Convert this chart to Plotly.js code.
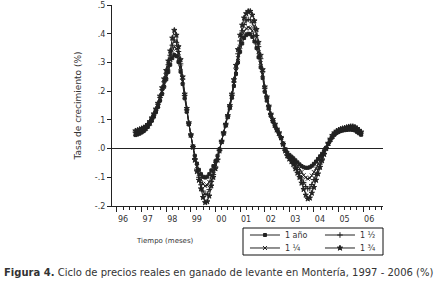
<!DOCTYPE html>
<html>
<head>
<meta charset="utf-8">
<script src="https://cdn.plot.ly/plotly-3.0.1.min.js"></script>
<style>html,body{margin:0;padding:0;background:#fff}#chart{width:443px;height:283px}</style>
</head>
<body>
<div id="chart"></div>
<script>
// Monthly observations starting October 1996
const startMonth = "1996-10";
const seriesNames = ["1 año", "1 ½", "1 ¼", "1 ¾"];

const serie1Anio = [0.047,0.049,0.052,0.056,0.061,0.067,0.075,0.085,0.097,0.111,0.127,0.145,0.167,0.190,0.215,0.241,0.267,0.292,0.315,0.326,0.322,0.302,0.268,0.225,0.175,0.128,0.084,0.045,0.008,-0.025,-0.052,-0.074,-0.089,-0.098,-0.101,-0.098,-0.089,-0.076,-0.061,-0.044,-0.025,-0.002,0.024,0.052,0.080,0.109,0.141,0.177,0.218,0.260,0.300,0.337,0.366,0.385,0.395,0.400,0.398,0.389,0.373,0.350,0.318,0.283,0.246,0.198,0.167,0.139,0.114,0.094,0.078,0.063,0.050,0.036,0.018,-0.002,-0.014,-0.022,-0.028,-0.034,-0.041,-0.048,-0.055,-0.061,-0.065,-0.067,-0.067,-0.065,-0.060,-0.053,-0.045,-0.036,-0.027,-0.018,-0.008,0.003,0.016,0.028,0.039,0.048,0.054,0.058,0.061,0.063,0.064,0.065,0.066,0.066,0.065,0.063,0.058,0.053,0.048];

const serie1Cuarto = [0.052,0.054,0.057,0.060,0.065,0.070,0.078,0.088,0.100,0.114,0.131,0.150,0.173,0.198,0.224,0.252,0.280,0.310,0.340,0.354,0.348,0.322,0.282,0.234,0.180,0.131,0.086,0.046,0.007,-0.030,-0.062,-0.088,-0.108,-0.123,-0.130,-0.128,-0.116,-0.097,-0.077,-0.055,-0.032,-0.005,0.024,0.053,0.081,0.111,0.144,0.181,0.225,0.270,0.315,0.355,0.388,0.408,0.418,0.422,0.420,0.410,0.394,0.370,0.336,0.298,0.258,0.205,0.172,0.143,0.117,0.096,0.080,0.064,0.052,0.037,0.017,-0.004,-0.018,-0.027,-0.034,-0.041,-0.050,-0.060,-0.070,-0.082,-0.093,-0.101,-0.105,-0.103,-0.094,-0.082,-0.069,-0.055,-0.042,-0.028,-0.013,0.002,0.017,0.030,0.042,0.051,0.057,0.061,0.064,0.066,0.067,0.068,0.069,0.070,0.069,0.067,0.062,0.057,0.051];

const serie1Medio = [0.057,0.059,0.062,0.065,0.069,0.074,0.081,0.091,0.103,0.117,0.134,0.154,0.178,0.205,0.233,0.262,0.292,0.325,0.360,0.378,0.370,0.338,0.295,0.242,0.185,0.135,0.088,0.047,0.006,-0.035,-0.072,-0.100,-0.126,-0.148,-0.160,-0.158,-0.143,-0.115,-0.090,-0.064,-0.037,-0.007,0.024,0.054,0.083,0.113,0.147,0.185,0.232,0.280,0.330,0.375,0.410,0.432,0.445,0.450,0.448,0.438,0.420,0.394,0.355,0.313,0.268,0.210,0.176,0.146,0.119,0.098,0.082,0.066,0.054,0.038,0.016,-0.006,-0.022,-0.032,-0.040,-0.048,-0.060,-0.073,-0.086,-0.102,-0.118,-0.132,-0.140,-0.138,-0.125,-0.108,-0.090,-0.072,-0.054,-0.036,-0.017,0.001,0.018,0.032,0.044,0.053,0.059,0.063,0.066,0.068,0.070,0.071,0.073,0.073,0.073,0.071,0.066,0.060,0.054];

const serie1TresCuartos = [0.062,0.064,0.067,0.070,0.073,0.077,0.084,0.094,0.107,0.121,0.138,0.158,0.183,0.212,0.243,0.272,0.305,0.340,0.385,0.412,0.395,0.355,0.310,0.250,0.190,0.140,0.090,0.048,0.005,-0.040,-0.080,-0.110,-0.140,-0.170,-0.188,-0.185,-0.165,-0.130,-0.100,-0.070,-0.040,-0.008,0.025,0.055,0.085,0.115,0.150,0.190,0.240,0.290,0.345,0.395,0.430,0.455,0.470,0.478,0.478,0.465,0.445,0.415,0.370,0.325,0.275,0.215,0.180,0.148,0.120,0.102,0.085,0.068,0.055,0.038,0.015,-0.008,-0.025,-0.036,-0.045,-0.055,-0.070,-0.085,-0.100,-0.120,-0.142,-0.162,-0.175,-0.172,-0.155,-0.135,-0.110,-0.088,-0.065,-0.042,-0.020,0.000,0.018,0.033,0.046,0.055,0.061,0.065,0.068,0.070,0.072,0.074,0.076,0.077,0.077,0.075,0.070,0.064,0.058];

const yTickVals = [-0.2,-0.1,0,0.1,0.2,0.3,0.4,0.5];
const yTickText = ["-.2","-.1",".0",".1",".2",".3",".4",".5"];
const xTickVals = ["1996-01-01","1997-01-01","1998-01-01","1999-01-01","2000-01-01","2001-01-01","2002-01-01","2003-01-01","2004-01-01","2005-01-01","2006-01-01"];
const xTickText = ["96","97","98","99","00","01","02","03","04","05","06"];

// month dates for the observations
function monthDates(start, n) {
  const [y0, m0] = start.split("-").map(Number);
  const out = [];
  for (let i = 0; i < n; i++) {
    const tot = (m0 - 1) + i;
    const y = y0 + Math.floor(tot / 12);
    const m = (tot % 12) + 1;
    out.push(y + "-" + String(m).padStart(2, "0") + "-01");
  }
  return out;
}
const dates = monthDates(startMonth, serie1Anio.length);

const ink = "#222";
function tr(name, vals, sym, size, leg) {
  return {
    x: dates, y: vals, name: name, type: "scatter", mode: "lines+markers",
    legend: leg,
    line: {color: ink, width: 1},
    marker: {symbol: sym, size: size, color: ink, line: {color: ink, width: 1}}
  };
}
const data = [
  tr(seriesNames[0], serie1Anio, "square", 3, "legend"),
  tr(seriesNames[1], serie1Medio, "cross-thin", 4, "legend"),
  tr(seriesNames[2], serie1Cuarto, "x-thin", 4, "legend2"),
  tr(seriesNames[3], serie1TresCuartos, "star", 4, "legend2")
];

const fam = "DejaVu Sans, Verdana, sans-serif";
const legFont = {family: fam, size: 8, color: "#333"};
function legendRow(yc) {
  return {
    orientation: "h",
    xref: "container", yref: "container",
    x: 0.553, xanchor: "left", y: yc, yanchor: "middle",
    borderwidth: 0, bgcolor: "rgba(0,0,0,0)",
    entrywidth: 30, entrywidthmode: "pixels",
    font: legFont, itemwidth: 30
  };
}
const layout = {
  width: 443, height: 283,
  margin: {l: 112, r: 60, t: 5, b: 77, autoexpand: false},
  paper_bgcolor: "#fff", plot_bgcolor: "#fff",
  font: {family: fam, size: 8, color: "#333"},
  showlegend: true,
  xaxis: {
    type: "date",
    range: ["1995-10-19", "2006-10-22"],
    tickvals: xTickVals, ticktext: xTickText,
    ticks: "outside", ticklen: 5, tickcolor: ink, tickwidth: 1,
    ticklabelshift: 6,
    minor: {dtick: "M3", tick0: "1996-01-01", ticks: "outside", ticklen: 3, tickcolor: ink, showgrid: false},
    showline: true, linecolor: ink, linewidth: 1,
    showgrid: false, zeroline: false,
    tickfont: {family: fam, size: 8, color: "#333"}
  },
  yaxis: {
    range: [-0.2, 0.5],
    tickvals: yTickVals, ticktext: yTickText,
    ticks: "outside", ticklen: 4, tickcolor: ink, tickwidth: 1,
    showline: true, linecolor: ink, linewidth: 1,
    showgrid: false,
    zeroline: true, zerolinecolor: ink, zerolinewidth: 1,
    title: {text: "Tasa de crecimiento (%)", font: {family: fam, size: 9, color: "#333"}, standoff: 11},
    tickfont: {family: fam, size: 8, color: "#333"}
  },
  legend: legendRow(0.1696),
  legend2: legendRow(0.1237),
  shapes: [
    {type: "rect", xref: "paper", yref: "paper", x0: 0.4834, x1: 1.0, y0: -0.2438, y1: -0.1095,
     line: {color: "#111", width: 1}, fillcolor: "rgba(0,0,0,0)"}
  ],
  annotations: [
    {text: "Tiempo (meses)", xref: "paper", yref: "paper", x: 0.196, y: -0.174,
     xanchor: "center", yanchor: "middle", showarrow: false,
     font: {family: fam, size: 7, color: "#333"}},
    {text: "<b>Figura 4.</b> Ciclo de precios reales en ganado de levante en Montería, 1997 - 2006 (%)",
     xref: "paper", yref: "paper", x: -0.406, y: -0.333, xanchor: "left", yanchor: "middle",
     showarrow: false, font: {family: fam, size: 10, color: "#333"}}
  ]
};
Plotly.newPlot("chart", data, layout, {displayModeBar: false, staticPlot: true});
</script>
</body>
</html>
